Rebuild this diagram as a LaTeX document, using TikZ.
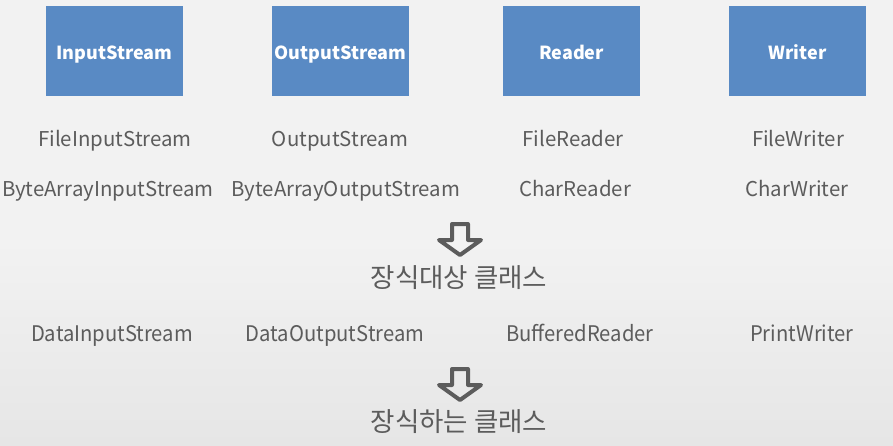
\documentclass[tikz,border=0pt]{standalone}
\usepackage{fontspec}
\setmainfont{Noto Sans CJK KR}
\newfontfamily\narrowfont[FakeStretch=0.94]{Noto Sans CJK KR}
\definecolor{boxblue}{RGB}{89,138,196}
\definecolor{txtgray}{RGB}{92,92,92}
\definecolor{bggray}{RGB}{242,242,242}
\definecolor{bgdark}{RGB}{230,230,230}

\tikzset{
  base/.style={fill=boxblue, minimum width=137pt, minimum height=90pt},
  baselabel/.style={text=white, inner sep=0pt, anchor=base, font=\bfseries\fontsize{18}{18}\selectfont},
  sub/.style={text=txtgray, inner sep=0pt, anchor=base, font=\fontsize{20.4}{20.4}\selectfont},
  deco/.style={text=txtgray, inner sep=0pt, anchor=base, font=\narrowfont\fontsize{21.5}{21.5}\selectfont},
  title/.style={text=txtgray, inner sep=0pt, font=\fontsize{26.5}{26.5}\selectfont},
  blockarrow/.style={draw=txtgray, line width=4pt, line join=round}
}

\begin{document}
\begin{tikzpicture}[x=1pt, y=-1pt]
\useasboundingbox (0,0) rectangle (893,445);
\fill[bggray] (0,0) rectangle (893,445);
\shade[top color=bggray, bottom color=bgdark] (0,240) rectangle (893,445);

% base classes
\node[base] (in) at (114.5,51) {};
\node[base] (out) at (340.5,51) {};
\node[base] (rd) at (571.5,51) {};
\node[base] (wr) at (797.5,51) {};
\node[baselabel] (inl) at (114.5,59) {InputStream};
\node[baselabel] (outl) at (340.5,59) {OutputStream};
\node[baselabel] (rdl) at (571.5,59) {Reader};
\node[baselabel] (wrl) at (797.5,59) {Writer};

\node[sub] (fin) at (115,146) {FileInputStream};
\node[sub] (fout) at (340,146) {OutputStream};
\node[sub] (frd) at (573,146) {FileReader};
\node[sub] (fwr) at (798,146) {FileWriter};
\node[sub] (bin) at (108,196) {ByteArrayInputStream};
\node[sub] (bout) at (346,196) {ByteArrayOutputStream};
\node[sub] (crd) at (575,196) {CharReader};
\node[sub] (cwr) at (797,196) {CharWriter};

\draw[blockarrow] (452,224) -- (468,224) -- (468,240) -- (481,240) -- (460,255) -- (439,240) -- (452,240) -- cycle;
\node[title] (target) at (459,278) {장식대상 클래스};

% decorators
\node[deco] (din) at (112,341) {DataInputStream};
\node[deco] (dout) at (335,341) {DataOutputStream};
\node[deco] (brd) at (580,341) {BufferedReader};
\node[deco] (pwr) at (802,341) {PrintWriter};

\draw[blockarrow] (452,369) -- (468,369) -- (468,385) -- (481,385) -- (460,400) -- (439,385) -- (452,385) -- cycle;
\node[title] (decor) at (459,422) {장식하는 클래스};
\end{tikzpicture}
\end{document}
